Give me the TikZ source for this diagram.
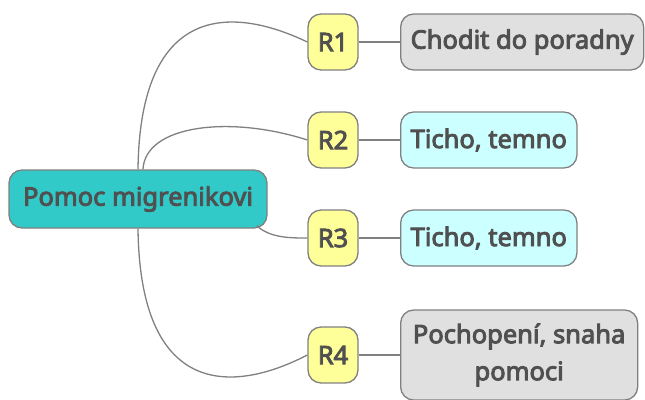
\documentclass[tikz,border=0pt]{standalone}
\usepackage{fontspec}
\setmainfont{Noto Sans}[FakeBold=3.5]
\usetikzlibrary{positioning}
\definecolor{rootteal}{RGB}{50,201,201}
\definecolor{reasonyellow}{RGB}{255,255,153}
\definecolor{leafgray}{RGB}{224,224,224}
\definecolor{leafcyan}{RGB}{204,255,255}
\definecolor{textgray}{RGB}{80,80,80}
\definecolor{linegray}{RGB}{128,128,128}

\begin{document}
\begin{tikzpicture}
    [x=1pt,y=-1pt,
     every node/.style={draw=linegray, line width=1.3pt, rounded corners=13pt, text=textgray,
       font=\fontsize{25.5}{37}\selectfont, align=center, inner sep=0pt},
     reason/.style={fill=reasonyellow, minimum width=50pt, minimum height=56pt},
     leaf/.style={minimum height=56pt, inner xsep=10pt},
     branch/.style={draw=linegray, line width=1.3pt}]
  \useasboundingbox (0,0) rectangle (645,399);
  \node[fill=rootteal, minimum width=258pt, minimum height=58pt] (root) at (138,199) {Pomoc migrenikovi};
  \node[reason] (r1) at (333,42) {R1};
  \node[reason] (r2) at (333,140) {R2};
  \node[reason] (r3) at (333,238) {R3};
  \node[reason] (r4) at (333,355) {R4};
  \node[leaf, fill=leafgray, anchor=west] (l1) at (400,42) {Chodit do poradny};
  \node[leaf, fill=leafcyan, anchor=west] (l2) at (400,140) {Ticho, temno};
  \node[leaf, fill=leafcyan, anchor=west] (l3) at (400,238) {Ticho, temno};
  \node[leaf, fill=leafgray, anchor=west, minimum width=237pt, minimum height=90pt] (l4) at (400,355) {Pochopení, snaha\\pomoci};

  % branches from the root
  \draw[branch] (root.north) .. controls (140,5) and (230,5) .. (r1.west);
  \draw[branch] ([xshift=5pt]root.north) .. controls (145,125) and (230,115) .. (r2.west);
  \draw[branch] ([xshift=-11pt,yshift=3pt]root.south east) .. controls (270,238) and (290,238) .. (r3.west);
  \draw[branch] (root.south) .. controls (140,395) and (230,395) .. (r4.west);

  \foreach \from/\to in {r1/l1, r2/l2, r3/l3, r4/l4}
    \draw[branch] (\from) -- (\to);
\end{tikzpicture}
\end{document}
